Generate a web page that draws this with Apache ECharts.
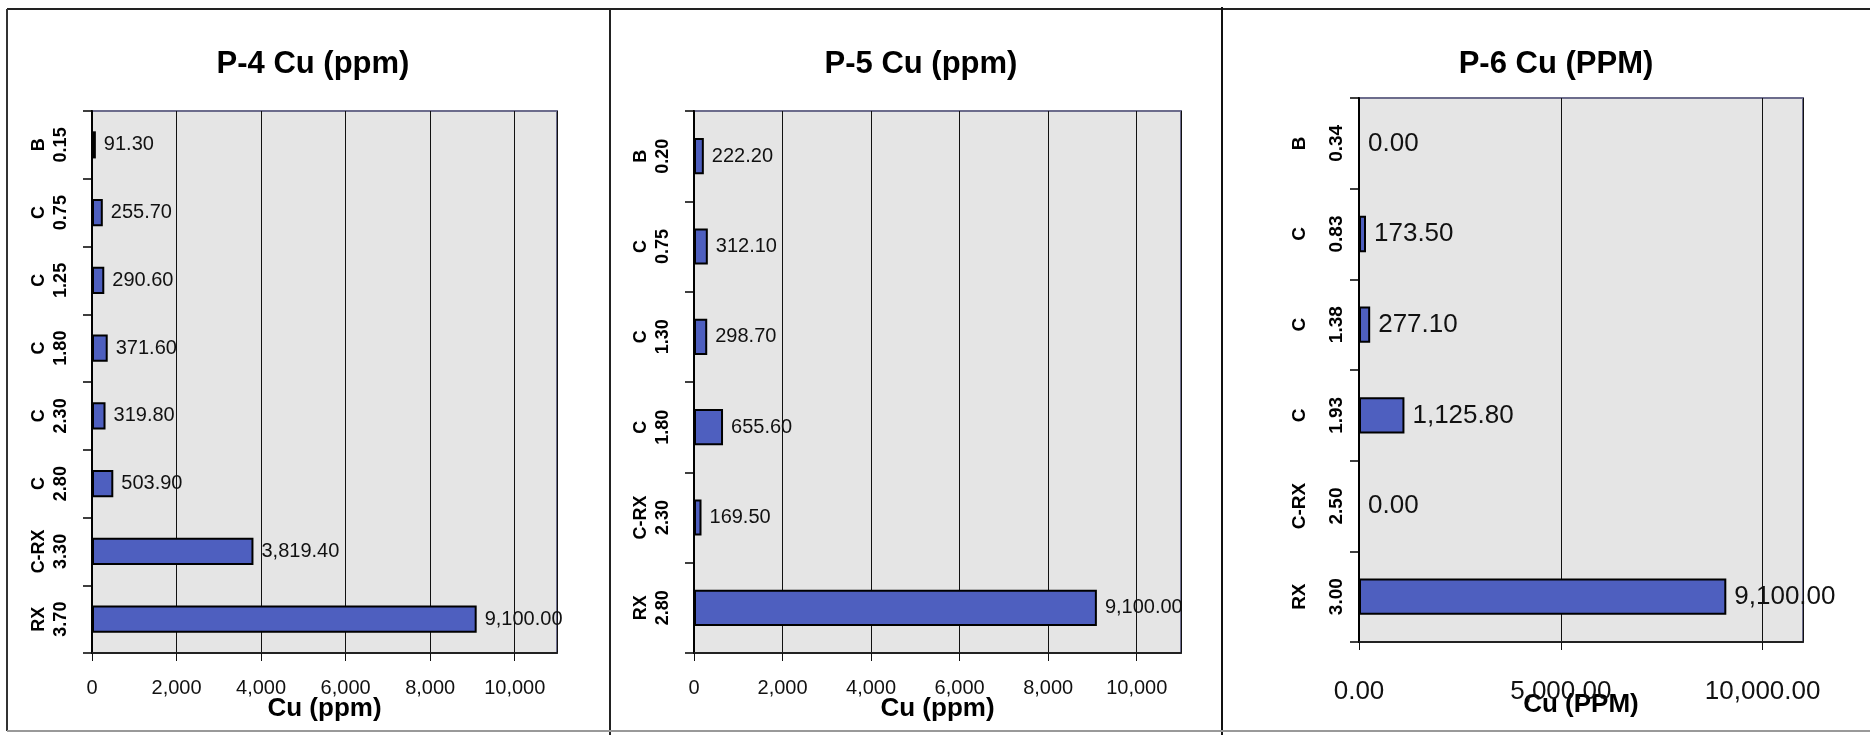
<!DOCTYPE html>
<html>
<head>
<meta charset="utf-8">
<script src="https://cdn.jsdelivr.net/npm/echarts@6/dist/echarts.min.js"></script>
<style>
html,body{margin:0;padding:0;background:#fff;}
#chart{width:1870px;height:735px;}
</style>
</head>
<body>
<div id="chart"></div>
<script>
// ---- data ----
const p4Types  = ['B', 'C', 'C', 'C', 'C', 'C', 'C-RX', 'RX'];
const p4Depths = ['0.15', '0.75', '1.25', '1.80', '2.30', '2.80', '3.30', '3.70'];
const p4Values = [91.30, 255.70, 290.60, 371.60, 319.80, 503.90, 3819.40, 9100.00];

const p5Types  = ['B', 'C', 'C', 'C', 'C-RX', 'RX'];
const p5Depths = ['0.20', '0.75', '1.30', '1.80', '2.30', '2.80'];
const p5Values = [222.20, 312.10, 298.70, 655.60, 169.50, 9100.00];

const p6Types  = ['B', 'C', 'C', 'C', 'C-RX', 'RX'];
const p6Depths = ['0.34', '0.83', '1.38', '1.93', '2.50', '3.00'];
const p6Values = [0.00, 173.50, 277.10, 1125.80, 0.00, 9100.00];

const titles = ['P-4 Cu (ppm)', 'P-5 Cu (ppm)', 'P-6 Cu (PPM)'];
const axisNames = ['Cu (ppm)', 'Cu (ppm)', 'Cu (PPM)'];

// ---- helpers ----
const FONT = 'Liberation Sans, Arial, sans-serif';
const fmt2 = v => v.toLocaleString('en-US', {minimumFractionDigits: 2, maximumFractionDigits: 2});
const fmt0 = v => v.toLocaleString('en-US', {maximumFractionDigits: 0});
const cats = (t, d) => t.map((x, i) => x + '\n' + d[i]);

const BAR = '#4e5fbf';
const PLOTBG = '#e5e5e5';

const grids = [
  {left: 92, top: 111, width: 465, height: 542},
  {left: 694, top: 111, width: 487, height: 542},
  {left: 1359, top: 98, width: 444, height: 544}
];

const titleX = [308, 916, 1551];

const panels = [
  {cats: cats(p4Types, p4Depths), vals: p4Values, tickFmt: fmt0, tickSize: 20, valSize: 20, ySize: 18, yLH: 22, interval: 2000, xMargin: 25, yMargin: 20, nameGap: 43},
  {cats: cats(p5Types, p5Depths), vals: p5Values, tickFmt: fmt0, tickSize: 20, valSize: 20, ySize: 18, yLH: 22, interval: 2000, xMargin: 25, yMargin: 20, nameGap: 43},
  {cats: cats(p6Types, p6Depths), vals: p6Values, tickFmt: fmt2, tickSize: 26, valSize: 26, ySize: 19, yLH: 37, interval: 5000, xMargin: 37, yMargin: 4, nameGap: 50}
];

const option = {
  backgroundColor: '#fff',
  animation: false,
  title: titles.map((t, i) => ({
    text: t, left: titleX[i], top: 44, textAlign: 'center',
    textStyle: {fontFamily: FONT, fontSize: 31, fontWeight: 'bold', color: '#000'}
  })),
  grid: grids.map(g => Object.assign({show: true, backgroundColor: PLOTBG, borderColor: '#6c6c8c', borderWidth: 2}, g)),
  xAxis: panels.map((p, i) => ({
    type: 'value', gridIndex: i, min: 0, max: 11000, interval: p.interval,
    name: axisNames[i], nameLocation: 'middle', nameGap: p.nameGap, nameMoveOverlap: false,
    nameTextStyle: {fontFamily: FONT, fontSize: 26, fontWeight: 'bold', color: '#000'},
    axisLine: {show: true, lineStyle: {color: '#222', width: 2}},
    axisTick: {show: true, length: 8, lineStyle: {color: '#111'}},
    axisLabel: {
      fontFamily: FONT, fontSize: p.tickSize, color: '#111', margin: p.xMargin,
      formatter: v => (v > 10000 ? '' : p.tickFmt(v)), showMaxLabel: false
    },
    splitLine: {show: true, lineStyle: {color: '#111', width: 1}}
  })),
  yAxis: panels.map((p, i) => ({
    type: 'category', gridIndex: i, data: p.cats, inverse: true,
    axisLine: {show: true, lineStyle: {color: '#000', width: 2}},
    axisTick: {show: true, length: 9, lineStyle: {color: '#000', width: 1.5}},
    axisLabel: {
      rotate: 90, fontFamily: FONT, fontSize: p.ySize, fontWeight: 'bold',
      color: '#000', lineHeight: p.yLH, margin: p.yMargin
    },
    splitLine: {show: false}
  })),
  series: panels.map((p, i) => ({
    type: 'bar', xAxisIndex: i, yAxisIndex: i, data: p.vals,
    barWidth: '40%',
    itemStyle: {color: BAR, borderColor: '#000', borderWidth: 2},
    label: {
      show: true, position: 'right', distance: 8,
      fontFamily: FONT, fontSize: p.valSize, color: '#111',
      formatter: d => fmt2(d.value)
    }
  })),
  graphic: [
    {type: 'line', shape: {x1: 7, y1: 9, x2: 1870, y2: 9}, style: {stroke: '#222', lineWidth: 2}},
    {type: 'line', shape: {x1: 7, y1: 9, x2: 7, y2: 731}, style: {stroke: '#333', lineWidth: 2}},
    {type: 'line', shape: {x1: 610, y1: 9, x2: 610, y2: 735}, style: {stroke: '#222', lineWidth: 2}},
    {type: 'line', shape: {x1: 1222, y1: 7, x2: 1222, y2: 735}, style: {stroke: '#111', lineWidth: 2}},
    {type: 'line', shape: {x1: 7, y1: 731, x2: 1870, y2: 731}, style: {stroke: '#999', lineWidth: 2}}
  ]
};

const chart = echarts.init(document.getElementById('chart'), null, {renderer: 'canvas'});
chart.setOption(option);
</script>
</body>
</html>
